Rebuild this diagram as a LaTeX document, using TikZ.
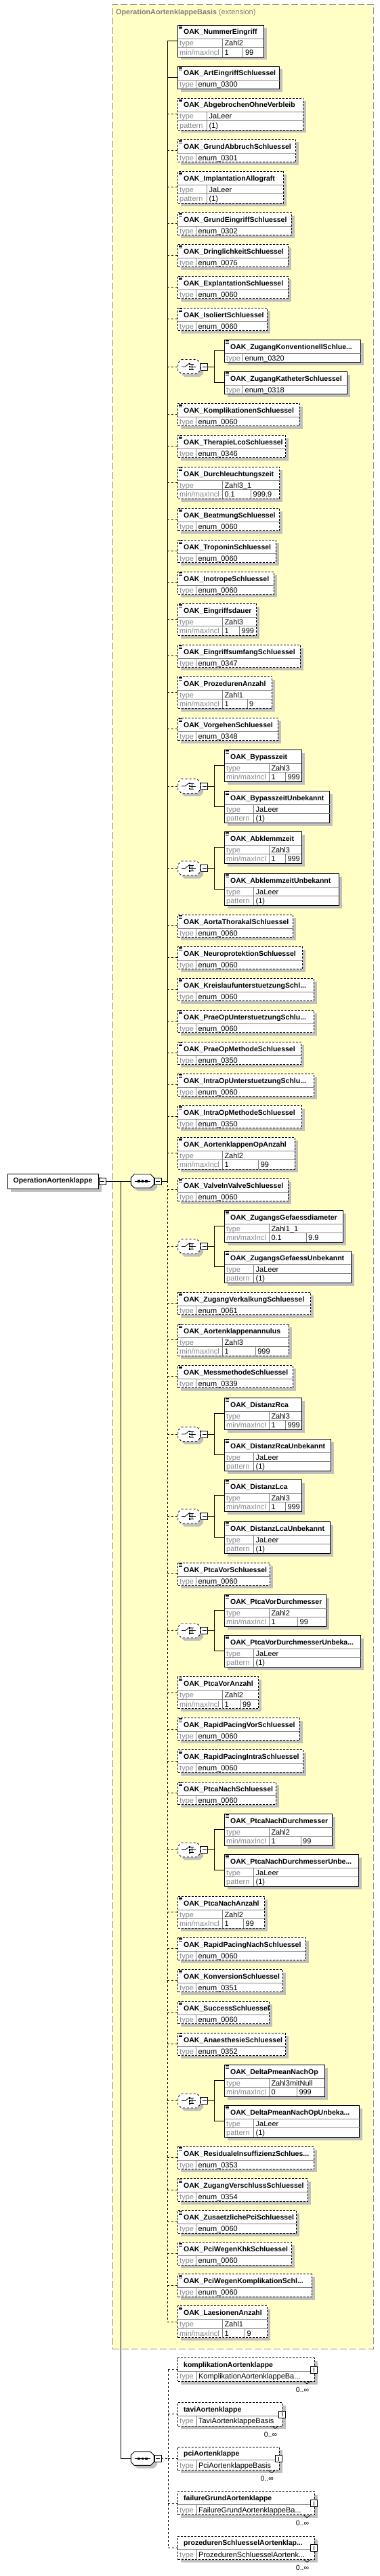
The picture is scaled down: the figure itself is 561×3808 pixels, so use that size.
\documentclass[tikz,border=0pt]{standalone}
\usepackage{fontspec}
\setmainfont{Liberation Sans}
\usepackage{tikz}
\usetikzlibrary{positioning, shadows}
\definecolor{extFill}{HTML}{FFFFC6}
\definecolor{extLine}{HTML}{8C8C8C}
\definecolor{extText}{HTML}{7F7F7F}
\definecolor{shadeGray}{HTML}{C0C0C0}
\definecolor{rowGray}{HTML}{808080}
\definecolor{lblGray}{HTML}{8A8A8A}
\newcommand{\elhead}[7]{%
\node[elbox, #2, minimum width={(#5-#3)*1pt}, minimum height={#6*1pt}] (#1) at (#3,#4) {};
\draw[rowln] (#3,#4+20) -- (#5,#4+20);
\foreach \k in {1.2,3.4,5.6} \draw[docicon] (#3+1,#4+\k) -- (#3+6.6,#4+\k);
\node[nametxt] at (#3+8.3,#4+14) {#7};}
\newcommand{\elT}[7]{%
\elhead{#1}{#2}{#3}{#4}{#5}{33.5}{#6}
\draw[rowln] (#3+26.6,#4+20) -- (#3+26.6,#4+33.5);
\node[lbltxt] at (#3+2.3,#4+31) {type}; \node[valtxt] at (#3+29.8,#4+31) {#7};}
\newcommand{\elP}[7]{%
\elhead{#1}{#2}{#3}{#4}{#5}{47}{#6}
\draw[rowln] (#3,#4+33.5) -- (#5,#4+33.5) (#3+42.6,#4+20) -- (#3+42.6,#4+47);
\node[lbltxt] at (#3+2.3,#4+31) {type}; \node[lbltxt] at (#3+2.3,#4+44.5) {pattern};
\node[valtxt] at (#3+45.8,#4+31) {#7}; \node[valtxt] at (#3+45.8,#4+44.5) {(1)};}
\newcommand{\elM}[9]{%
\elhead{#1}{#2}{#3}{#4}{#5}{47}{#6}
\draw[rowln] (#3,#4+33.5) -- (#5,#4+33.5) (#3+65.6,#4+20) -- (#3+65.6,#4+47) ({(#3+65.6+#5)/2},#4+33.5) -- ({(#3+65.6+#5)/2},#4+47);
\node[lbltxt] at (#3+2.3,#4+31) {type}; \node[lbltxt] at (#3+2.3,#4+44.5) {min/maxIncl};
\node[valtxt] at (#3+68.6,#4+31) {#7}; \node[valtxt] at (#3+68.6,#4+44.5) {#8};
\node[valtxt] at ({(#3+65.6+#5)/2+3},#4+44.5) {#9};}
\newcommand{\elC}[5]{%
\node[elbox, opt, minimum width={(#3-262.7)*1pt}, minimum height=34.3pt] (#1) at (262.7,#2) {};
\draw[rowln] (262.7,#2+19.3) -- (#3,#2+19.3) (289.9,#2+19.3) -- (289.9,#2+34.3);
\node[nametxt] at (271,#2+13.6) {#4};
\node[lbltxt] at (265,#2+31) {type}; \node[valtxt] at (292.9,#2+31) {#5};
\node[tglplus] (#1p) at (#3-1,#2+17.2) {};
\draw[line width=0.7pt] (#3-16,#2+34.3) -- (#3-11,#2+38.3) -- (#3-6,#2+34.3);
\node[multtxt] at (#3-8,#2+50.3) {0..∞};}
\newcommand{\octo}[6]{%
\draw[#2, fill=white, shd] (#3+5,#5-#6) -- (#4-5,#5-#6) -- (#4,#5-#6+5) -- (#4,#5+#6-5) -- (#4-5,#5+#6) -- (#3+5,#5+#6) -- (#3,#5+#6-5) -- (#3,#5-#6+5) -- cycle;
\node[hit, minimum width={(#4-#3)*1pt}, minimum height={2*#6*1pt}] (#1) at ({(#3+#4)/2},#5) {};}
\newcommand{\seqgrp}[2]{%
\octo{#1}{link}{193.3}{227.3}{#2}{10}
\draw[link] (198.5,#2) -- (222,#2);
\foreach \d in {-5.5,0,5.5} \fill ({210.3+\d-1.7},#2-1.7) rectangle +(3.4,3.4);
\node[tglminus] (#1m) at (233,#2) {};}
\newcommand{\choicegrp}[4]{%
\octo{#1}{link,dashed}{262.7}{295.7}{#2}{10.5}
\draw[line width=0.8pt] (268.2,#2) -- (273.5,#2) -- (279,#2-4.5);
\foreach \d in {-4,0,4} \fill (279,#2+\d-1.1) rectangle +(2.2,2.2);
\draw[line width=0.8pt] (283,#2-4) -- (283,#2+4) (281.2,#2-4) -- (286,#2-4) (281.2,#2+4) -- (286,#2+4) (281.2,#2) -- (289,#2);
\node[tglminus] (#1m) at (301.7,#2) {};
\coordinate (#1s) at (316,#2);
\draw[link] (#1m) -- (#1s) (#1s |- #3.west) -- (#1s |- #4.west);
\draw[link] (#1s |- #3.west) -- (#3.west) (#1s |- #4.west) -- (#4.west);}

\begin{document}
\begin{tikzpicture}[x=1pt, y=-1pt,
link/.style={line width=0.9pt},
shd/.style={drop shadow={shadow xshift=4.5pt, shadow yshift=-4.5pt, opacity=1, fill=shadeGray}},
elbox/.style={draw, fill=white, line width=0.9pt, inner sep=0pt, outer sep=0pt, anchor=north west, shd},
opt/.style={dash pattern=on 3pt off 2pt},
mand/.style={solid},
hit/.style={inner sep=0pt, outer sep=0pt},
rowln/.style={draw=rowGray, line width=0.7pt},
docicon/.style={line width=0.8pt},
nametxt/.style={anchor=base west, inner sep=0pt, font=\bfseries\fontsize{10.5}{12}\selectfont},
lbltxt/.style={anchor=base west, inner sep=0pt, text=lblGray, font=\fontsize{11}{12}\selectfont},
valtxt/.style={anchor=base west, inner sep=0pt, font=\fontsize{11}{12}\selectfont},
multtxt/.style={anchor=base east, inner sep=0pt, font=\fontsize{10.5}{12}\selectfont},
tglminus/.style={draw, fill=white, line width=0.7pt, minimum size=10pt, inner sep=0pt, outer sep=0pt, path picture={\draw[line width=0.7pt] ([xshift=2pt]path picture bounding box.west) -- ([xshift=-2pt]path picture bounding box.east);}},
tglplus/.style={tglminus, path picture={\draw[line width=0.7pt] ([yshift=-2pt]path picture bounding box.north) -- ([yshift=2pt]path picture bounding box.south);}},
rootbox/.style={draw, fill=white, line width=0.9pt, minimum width=134pt, minimum height=22pt, inner sep=0pt, outer sep=0pt, font=\bfseries\fontsize{10.5}{12}\selectfont, shd},
extbox/.style={draw=extLine, fill=extFill, dash pattern=on 10pt off 4pt, line width=0.9pt, inner sep=0pt, anchor=north west}]
\useasboundingbox (0,0) rectangle (561,3808);
\node[extbox, minimum width=385pt, minimum height=3466pt] (ext) at (165.7,6) {};
\node[anchor=base west, inner sep=0pt, text=extText] (extTitle) at (171,22) {\bfseries\fontsize{10.8}{12}\selectfont OperationAortenklappeBasis \mdseries\fontsize{11}{12}\selectfont (extension)};
\node[rootbox] (root) at (78,1746) {OperationAortenklappe};
\node[tglminus] (rootm) at (151,1746) {};
\seqgrp{seq1}{1746}
\seqgrp{seq2}{3634.4}
\coordinate (jn) at (178.3,1746);
\coordinate (spA) at (247.3,1746);
\coordinate (spB) at (248,3634.4);
\elM{nummer}{mand}{262.7}{37}{389.3}{OAK\_NummerEingriff}{Zahl2}{1}{99}
\elT{artEingriff}{mand}{262.7}{98}{412.7}{OAK\_ArtEingriffSchluessel}{enum\_0300}
\elP{abgebrochen}{opt}{262.7}{145}{447.7}{OAK\_AbgebrochenOhneVerbleib}{JaLeer}
\elT{grundAbbruch}{opt}{262.7}{206}{436.7}{OAK\_GrundAbbruchSchluessel}{enum\_0301}
\elP{implantation}{opt}{262.7}{253}{418.7}{OAK\_ImplantationAllograft}{JaLeer}
\elT{grundEingriff}{opt}{262.7}{314}{430}{OAK\_GrundEingriffSchluessel}{enum\_0302}
\elT{dringlichkeit}{opt}{262.7}{361}{425.3}{OAK\_DringlichkeitSchluessel}{enum\_0076}
\elT{explantation}{opt}{262.7}{408}{425.3}{OAK\_ExplantationSchluessel}{enum\_0060}
\elT{isoliert}{opt}{262.7}{455}{394}{OAK\_IsoliertSchluessel}{enum\_0060}
\elT{zgKonv}{mand}{331.7}{502}{532.7}{OAK\_ZugangKonventionellSchlue...}{enum\_0320}
\elT{zgKath}{mand}{331.7}{549}{512.7}{OAK\_ZugangKatheterSchluessel}{enum\_0318}
\choicegrp{chA}{542}{zgKonv}{zgKath}
\elT{komplikationen}{opt}{262.7}{596}{442}{OAK\_KomplikationenSchluessel}{enum\_0060}
\elT{therapie}{opt}{262.7}{643}{421.7}{OAK\_TherapieLcoSchluessel}{enum\_0346}
\elM{durchleuchtung}{opt}{262.7}{690}{412.7}{OAK\_Durchleuchtungszeit}{Zahl3\_1}{0.1}{999.9}
\elT{beatmung}{opt}{262.7}{751}{412.7}{OAK\_BeatmungSchluessel}{enum\_0060}
\elT{troponin}{opt}{262.7}{798}{407}{OAK\_TroponinSchluessel}{enum\_0060}
\elT{inotrope}{opt}{262.7}{845}{404}{OAK\_InotropeSchluessel}{enum\_0060}
\elM{eingriffsdauer}{opt}{262.7}{892}{378.7}{OAK\_Eingriffsdauer}{Zahl3}{1}{999}
\elT{eingriffsumfang}{opt}{262.7}{953}{443}{OAK\_EingriffsumfangSchluessel}{enum\_0347}
\elM{prozAnzahl}{opt}{262.7}{1000}{401.7}{OAK\_ProzedurenAnzahl}{Zahl1}{1}{9}
\elT{vorgehen}{opt}{262.7}{1061}{410}{OAK\_VorgehenSchluessel}{enum\_0348}
\elM{bypass}{mand}{331.7}{1108}{445.3}{OAK\_Bypasszeit}{Zahl3}{1}{999}
\elP{bypassUnb}{mand}{331.7}{1169}{486.7}{OAK\_BypasszeitUnbekannt}{JaLeer}
\choicegrp{chB}{1162}{bypass}{bypassUnb}
\elM{abklemm}{mand}{331.7}{1229}{445.3}{OAK\_Abklemmzeit}{Zahl3}{1}{999}
\elP{abklemmUnb}{mand}{331.7}{1291}{500.7}{OAK\_AbklemmzeitUnbekannt}{JaLeer}
\choicegrp{chC}{1283.5}{abklemm}{abklemmUnb}
\elT{aortaThorakal}{opt}{262.7}{1352}{432.7}{OAK\_AortaThorakalSchluessel}{enum\_0060}
\elT{neuroprot}{opt}{262.7}{1399}{446.7}{OAK\_NeuroprotektionSchluessel}{enum\_0060}
\elT{kreislauf}{opt}{262.7}{1446}{463.3}{OAK\_KreislaufunterstuetzungSchl...}{enum\_0060}
\elT{praeOpUnt}{opt}{262.7}{1493}{463.7}{OAK\_PraeOpUnterstuetzungSchlu...}{enum\_0060}
\elT{praeOpMeth}{opt}{262.7}{1540}{444.7}{OAK\_PraeOpMethodeSchluessel}{enum\_0350}
\elT{intraOpUnt}{opt}{262.7}{1587}{463.7}{OAK\_IntraOpUnterstuetzungSchlu...}{enum\_0060}
\elT{intraOpMeth}{opt}{262.7}{1634}{445.7}{OAK\_IntraOpMethodeSchluessel}{enum\_0350}
\elM{opAnzahl}{opt}{262.7}{1681}{435}{OAK\_AortenklappenOpAnzahl}{Zahl2}{1}{99}
\elT{valveInValve}{opt}{262.7}{1742}{425}{OAK\_ValveInValveSchluessel}{enum\_0060}
\elM{gefDiam}{mand}{331.7}{1789}{506.7}{OAK\_ZugangsGefaessdiameter}{Zahl1\_1}{0.1}{9.9}
\elP{gefUnb}{mand}{331.7}{1849}{518.3}{OAK\_ZugangsGefaessUnbekannt}{JaLeer}
\choicegrp{chD}{1842.5}{gefDiam}{gefUnb}
\elT{verkalkung}{opt}{262.7}{1910}{458.7}{OAK\_ZugangVerkalkungSchluessel}{enum\_0061}
\elM{annulus}{opt}{262.7}{1957}{426}{OAK\_Aortenklappenannulus}{Zahl3}{1}{999}
\elT{messmethode}{opt}{262.7}{2018}{432.7}{OAK\_MessmethodeSchluessel}{enum\_0339}
\elM{rca}{mand}{331.7}{2066}{445.3}{OAK\_DistanzRca}{Zahl3}{1}{999}
\elP{rcaUnb}{mand}{331.7}{2127}{488.7}{OAK\_DistanzRcaUnbekannt}{JaLeer}
\choicegrp{chE}{2120}{rca}{rcaUnb}
\elM{lca}{mand}{331.7}{2187}{445.3}{OAK\_DistanzLca}{Zahl3}{1}{999}
\elP{lcaUnb}{mand}{331.7}{2249}{487.3}{OAK\_DistanzLcaUnbekannt}{JaLeer}
\choicegrp{chF}{2241.5}{lca}{lcaUnb}
\elT{ptcaVor}{opt}{262.7}{2310}{398.7}{OAK\_PtcaVorSchluessel}{enum\_0060}
\elM{ptcaVorD}{mand}{331.7}{2357}{481.7}{OAK\_PtcaVorDurchmesser}{Zahl2}{1}{99}
\elP{ptcaVorDU}{mand}{331.7}{2417}{532.7}{OAK\_PtcaVorDurchmesserUnbeka...}{JaLeer}
\choicegrp{chG}{2410.5}{ptcaVorD}{ptcaVorDU}
\elM{ptcaVorAnz}{opt}{262.7}{2478.7}{381.7}{OAK\_PtcaVorAnzahl}{Zahl2}{1}{99}
\elT{rapidVor}{opt}{262.7}{2539.3}{442}{OAK\_RapidPacingVorSchluessel}{enum\_0060}
\elT{rapidIntra}{opt}{262.7}{2586.7}{447.7}{OAK\_RapidPacingIntraSchluessel}{enum\_0060}
\elT{ptcaNach}{opt}{262.7}{2634}{407.7}{OAK\_PtcaNachSchluessel}{enum\_0060}
\elM{ptcaNachD}{mand}{331.7}{2681}{490.7}{OAK\_PtcaNachDurchmesser}{Zahl2}{1}{99}
\elP{ptcaNachDU}{mand}{331.7}{2741}{529.3}{OAK\_PtcaNachDurchmesserUnbe...}{JaLeer}
\choicegrp{chH}{2734.5}{ptcaNachD}{ptcaNachDU}
\elM{ptcaNachAnz}{opt}{262.7}{2803}{390.7}{OAK\_PtcaNachAnzahl}{Zahl2}{1}{99}
\elT{rapidNach}{opt}{262.7}{2864}{451}{OAK\_RapidPacingNachSchluessel}{enum\_0060}
\elT{konversion}{opt}{262.7}{2911}{417.7}{OAK\_KonversionSchluessel}{enum\_0351}
\elT{success}{opt}{262.7}{2958}{397.7}{OAK\_SuccessSchluessel}{enum\_0060}
\elT{anaesthesie}{opt}{262.7}{3005}{421.7}{OAK\_AnaesthesieSchluessel}{enum\_0352}
\elM{deltaP}{mand}{331.7}{3052}{479.3}{OAK\_DeltaPmeanNachOp}{Zahl3mitNull}{0}{999}
\elP{deltaPU}{mand}{331.7}{3112}{530.7}{OAK\_DeltaPmeanNachOpUnbeka...}{JaLeer}
\choicegrp{chI}{3105.5}{deltaP}{deltaPU}
\elT{residuale}{opt}{262.7}{3173}{463.7}{OAK\_ResidualeInsuffizienzSchlues...}{enum\_0353}
\elT{verschluss}{opt}{262.7}{3220.7}{454}{OAK\_ZugangVerschlussSchluessel}{enum\_0354}
\elT{zusPci}{opt}{262.7}{3267.7}{437.7}{OAK\_ZusaetzlichePciSchluessel}{enum\_0060}
\elT{pciKhk}{opt}{262.7}{3314.7}{430.7}{OAK\_PciWegenKhkSchluessel}{enum\_0060}
\elT{pciKompl}{opt}{262.7}{3361.7}{460}{OAK\_PciWegenKomplikationSchl...}{enum\_0060}
\elM{laesionen}{opt}{262.7}{3408.7}{394.7}{OAK\_LaesionenAnzahl}{Zahl1}{1}{9}
\elC{komplik}{3485.7}{464.3}{komplikationAortenklappe}{KomplikationAortenklappeBa...}
\elC{tavi}{3551.7}{417.3}{taviAortenklappe}{TaviAortenklappeBasis}
\elC{pci}{3617.3}{412}{pciAortenklappe}{PciAortenklappeBasis}
\elC{failure}{3683.3}{464.3}{failureGrundAortenklappe}{FailureGrundAortenklappeBa...}
\elC{prozSchl}{3749.3}{464.3}{prozedurenSchluesselAortenklap...}{ProzedurenSchluesselAortenk...}
\draw[link] (rootm) -- (seq1);
\draw[link] (jn) |- (seq2);
\draw[link] (seq1m) -- (spA);
\draw[link, dashed] (seq2m) -- (spB);
\draw[link] (spA |- nummer.west) -- (spA);
\draw[link, dashed] (spA) -- (spA |- laesionen.west);
\draw[link, dashed] (spB |- komplik.west) -- (spB |- prozSchl.west);
\foreach \n in {nummer,artEingriff} \draw[link] (spA |- \n.west) -- (\n.west);
\foreach \n in {abgebrochen,grundAbbruch,implantation,grundEingriff,dringlichkeit,explantation,isoliert,chA,komplikationen,therapie,durchleuchtung,beatmung,troponin,inotrope,eingriffsdauer,eingriffsumfang,prozAnzahl,vorgehen,chB,chC,aortaThorakal,neuroprot,kreislauf,praeOpUnt,praeOpMeth,intraOpUnt,intraOpMeth,opAnzahl,valveInValve,chD,verkalkung,annulus,messmethode,chE,chF,ptcaVor,chG,ptcaVorAnz,rapidVor,rapidIntra,ptcaNach,chH,ptcaNachAnz,rapidNach,konversion,success,anaesthesie,chI,residuale,verschluss,zusPci,pciKhk,pciKompl,laesionen} \draw[link, dashed] (spA |- \n.west) -- (\n.west);
\foreach \n in {komplik,tavi,pci,failure,prozSchl} \draw[link, dashed] (spB |- \n.west) -- (\n.west);
\end{tikzpicture}
\end{document}
